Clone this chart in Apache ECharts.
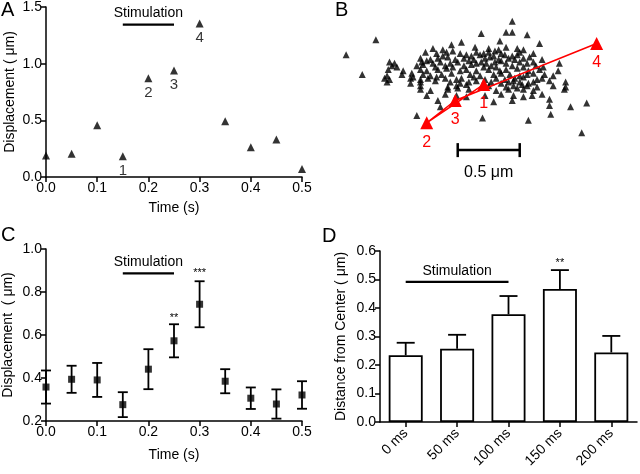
<!DOCTYPE html>
<html><head><meta charset="utf-8">
<script src="https://cdn.jsdelivr.net/npm/echarts@6/dist/echarts.min.js"></script>
<style>html,body{margin:0;padding:0;background:#fff}#c{width:640px;height:474px}</style>
</head><body><div id="c"></div>
<script>
const FONT = "'Liberation Sans', Arial, Helvetica, sans-serif";

// ---------- Panel A ----------
const aTime = [0, 0.05, 0.1, 0.15, 0.2, 0.25, 0.3, 0.35, 0.4, 0.45, 0.5];
const aDisp = [0.19, 0.205, 0.456, 0.184, 0.871, 0.939, 1.354, 0.491, 0.263, 0.33, 0.07];
const aLabels = ['', '', '', '1', '2', '3', '4', '', '', '', ''];
const aStim = {from: 0.15, to: 0.25, y: 1.345};

// ---------- Panel B (positions in µm) ----------
const bCloud = [
 [1.47,1.41],
 [1.22,1.31],[1.42,1.32],[1.47,1.32],[1.59,1.30],
 [0.37,1.26],
 [0.98,1.22],[1.06,1.24],[1.37,1.25],[1.69,1.23],
 [0.83,1.19],[0.91,1.18],[1.17,1.20],[1.28,1.19],[1.36,1.18],[1.42,1.20],[1.51,1.19],[1.56,1.18],
 [0.77,1.16],[0.86,1.15],[0.94,1.16],[0.99,1.17],[1.05,1.15],[1.18,1.16],[1.24,1.15],[1.28,1.16],[1.33,1.17],[1.38,1.15],[1.53,1.16],[1.64,1.15],
 [0.13,1.14],[0.91,1.13],[1.10,1.14],[1.14,1.13],[1.21,1.14],[1.32,1.13],[1.41,1.14],[1.47,1.13],[1.51,1.14],
 [0.73,1.11],[0.81,1.10],[0.87,1.11],[0.95,1.12],[1.01,1.10],[1.08,1.11],[1.16,1.10],[1.25,1.11],[1.29,1.12],[1.36,1.10],[1.44,1.11],[1.49,1.10],[1.56,1.11],[1.61,1.12],[1.71,1.10],
 [0.48,1.08],[0.52,1.07],[0.74,1.08],[0.78,1.09],[0.83,1.07],[0.89,1.08],[0.97,1.07],[1.03,1.08],[1.12,1.09],[1.18,1.07],[1.22,1.08],[1.26,1.07],[1.33,1.08],[1.38,1.09],[1.42,1.07],[1.53,1.08],[1.59,1.07],[1.64,1.08],[1.85,1.07],
 [0.50,1.05],[0.54,1.04],[0.70,1.05],[0.75,1.06],[0.85,1.04],[0.93,1.05],[0.99,1.04],[1.08,1.05],[1.14,1.06],[1.24,1.04],[1.30,1.05],[1.34,1.04],[1.47,1.05],[1.56,1.04],[1.66,1.05],[1.72,1.04],
 [0.47,1.02],[0.59,1.01],[0.73,1.02],[0.78,1.01],[0.87,1.02],[0.94,1.03],[1.05,1.01],[1.10,1.02],[1.18,1.01],[1.28,1.02],[1.37,1.01],[1.42,1.02],[1.51,1.03],[1.60,1.01],[1.69,1.02],[1.84,1.01],
 [0.26,0.98],[0.46,0.97],[0.58,0.98],[0.66,0.99],[0.75,0.98],[0.81,0.97],[0.90,0.98],[0.98,0.99],[1.13,0.98],[1.21,0.97],[1.32,0.98],[1.38,0.99],[1.45,0.98],[1.53,0.97],[1.59,0.98],[1.64,0.99],[1.73,0.98],[1.80,0.97],
 [0.44,0.95],[0.48,0.94],[0.65,0.95],[0.67,0.96],[0.73,0.94],[0.79,0.95],[0.86,0.96],[0.93,0.95],[1.02,0.94],[1.06,0.95],[1.16,0.96],[1.25,0.94],[1.34,0.95],[1.41,0.94],[1.49,0.95],[1.56,0.96],[1.67,0.94],[1.71,0.95],
 [0.46,0.92],[0.65,0.91],[0.73,0.92],[0.85,0.93],[0.97,0.92],[1.05,0.91],[1.12,0.92],[1.18,0.93],[1.30,0.92],[1.38,0.91],[1.44,0.92],[1.48,0.93],[1.53,0.92],[1.60,0.91],[1.64,0.92],[1.77,0.93],[1.90,0.92],
 [0.73,0.89],[0.95,0.88],[1.02,0.89],[1.10,0.90],[1.28,0.89],[1.42,0.88],[1.48,0.89],[1.55,0.90],[1.59,0.89],[1.67,0.88],[1.80,0.89],[1.90,0.88],
 [0.73,0.86],[0.81,0.85],[0.95,0.86],[1.03,0.87],[1.12,0.86],[1.34,0.85],[1.44,0.86],[1.51,0.87],[1.56,0.86],[1.64,0.85],[1.89,0.86],
 [0.78,0.81],[0.93,0.82],[1.02,0.81],[1.10,0.80],[1.25,0.81],[1.38,0.82],[1.48,0.81],[1.56,0.80],[1.63,0.81],[1.71,0.82],
 [0.87,0.77],[1.32,0.76],[1.47,0.77],[1.77,0.78],
 [0.89,0.72],[1.77,0.73],[1.94,0.72],[2.07,0.75],
 [0.70,0.65],[1.23,0.63],[1.78,0.66],
 [1.60,0.61],
 [2.03,0.51]
];
const bTrack = [[1.24, 0.90], [0.78, 0.59], [1.01, 0.77], [2.15, 1.23]];
const bTrackLabels = ['1', '2', '3', '4'];
const bScaleBar = {from: 1.03, to: 1.53, y: 0.37, label: '0.5 μm'};

// ---------- Panel C ----------
const cTime = [0, 0.05, 0.1, 0.15, 0.2, 0.25, 0.3, 0.35, 0.4, 0.45, 0.5];
const cMean = [0.358, 0.394, 0.391, 0.276, 0.441, 0.573, 0.743, 0.385, 0.306, 0.279, 0.321];
const cErr  = [0.077, 0.063, 0.079, 0.058, 0.093, 0.077, 0.107, 0.056, 0.050, 0.068, 0.064];
const cStars = [[0.25, 0.677, '**'], [0.3, 0.887, '***']];
const cStim = {from: 0.15, to: 0.25, y: 0.887};

// ---------- Panel D ----------
const dCats = ['0 ms', '50 ms', '100 ms', '150 ms', '200 ms'];
const dMean = [0.234, 0.257, 0.378, 0.467, 0.244];
const dErr  = [0.044, 0.049, 0.064, 0.066, 0.058];
const dStars = [[3, 0.559, '**']];
const dStim = {from: 0, to: 2, y: 0.492};

// ---------- helpers ----------
const BLACK = '#000';
const TICK = 14, NAME = 14;
function axisBase(extra) {
  return Object.assign({
    axisLine: {show: true, onZero: false, lineStyle: {color: BLACK, width: 1.5}},
    axisTick: {show: true, length: 5, lineStyle: {color: BLACK, width: 1.5}},
    axisLabel: {color: BLACK, fontSize: TICK, fontFamily: FONT, margin: 4},
    splitLine: {show: false},
    nameTextStyle: {color: BLACK, fontSize: NAME, fontFamily: FONT},
    nameLocation: 'middle'
  }, extra);
}
const fmt1 = v => v.toFixed(1);

function stimRender(stim) {
  return function (params, api) {
    const p1 = api.coord([stim.from, stim.y]);
    const p2 = api.coord([stim.to, stim.y]);
    return {type: 'group', children: [
      {type: 'line', shape: {x1: p1[0], y1: p1[1], x2: p2[0], y2: p2[1]}, style: {stroke: BLACK, lineWidth: 2.2}},
      {type: 'text', x: (p1[0] + p2[0]) / 2, y: p1[1] - 4, style: {text: 'Stimulation', fill: BLACK, font: '14px ' + FONT, textAlign: 'center', textVerticalAlign: 'bottom'}}
    ]};
  };
}
function starRender(list) {
  return function (params, api) {
    const s = list[params.dataIndex];
    const p = api.coord([s[0], s[1]]);
    return {type: 'text', x: p[0], y: p[1], style: {text: s[2], fill: BLACK, font: '11px ' + FONT, textAlign: 'center', textVerticalAlign: 'middle'}};
  };
}

const option = {
  animation: false,
  backgroundColor: '#fff',
  grid: [
    {left: 46, right: 338, top: 6, bottom: 297},
    {left: 330, width: 310, top: 10, height: 186},
    {left: 46, right: 338, top: 249, bottom: 53},
    {left: 380, right: 3, top: 251, bottom: 52}
  ],
  xAxis: [
    axisBase({type: 'value', gridIndex: 0, min: 0, max: 0.5, interval: 0.1, name: 'Time (s)', nameGap: 24,
      axisLabel: {color: BLACK, fontSize: TICK, fontFamily: FONT, margin: 4, formatter: fmt1}}),
    {type: 'value', gridIndex: 1, min: 0, max: 2.5, show: false},
    axisBase({type: 'value', gridIndex: 2, min: 0, max: 0.5, interval: 0.1, name: 'Time (s)', nameGap: 27,
      axisLabel: {color: BLACK, fontSize: TICK, fontFamily: FONT, margin: 4, formatter: fmt1}}),
    axisBase({type: 'category', gridIndex: 3, data: dCats,
      axisTick: {show: true, alignWithLabel: true, length: 5, lineStyle: {color: BLACK, width: 1.5}},
      axisLabel: {color: BLACK, fontSize: 14, fontFamily: FONT, rotate: 45, margin: 9, interval: 0}})
  ],
  yAxis: [
    axisBase({type: 'value', gridIndex: 0, min: 0, max: 1.5, interval: 0.5, name: 'Displacement ( μm)', nameGap: 29,
      axisLabel: {color: BLACK, fontSize: TICK, fontFamily: FONT, margin: 4, formatter: fmt1}}),
    {type: 'value', gridIndex: 1, min: 0, max: 1.5, show: false},
    axisBase({type: 'value', gridIndex: 2, min: 0.2, max: 1.0, interval: 0.2, name: 'Displacement  ( μm)', nameGap: 31,
      axisLabel: {color: BLACK, fontSize: TICK, fontFamily: FONT, margin: 4, formatter: fmt1}}),
    axisBase({type: 'value', gridIndex: 3, min: 0, max: 0.6, interval: 0.1, name: 'Distance from Center ( μm)', nameGap: 32,
      axisLabel: {color: BLACK, fontSize: TICK, fontFamily: FONT, margin: 4, formatter: fmt1}})
  ],
  graphic: [
    {type: 'text', left: 1, top: 0, style: {text: 'A', fill: BLACK, font: '20px ' + FONT}},
    {type: 'text', left: 335, top: 0, style: {text: 'B', fill: BLACK, font: '20px ' + FONT}},
    {type: 'text', left: 1, top: 225, style: {text: 'C', fill: BLACK, font: '20px ' + FONT}},
    {type: 'text', left: 322, top: 226, style: {text: 'D', fill: BLACK, font: '20px ' + FONT}}
  ],
  series: [
    // A
    {type: 'scatter', xAxisIndex: 0, yAxisIndex: 0, symbol: 'triangle', symbolSize: 8,
      itemStyle: {color: BLACK},
      data: aTime.map((t, i) => [t, aDisp[i]]),
      label: {show: true, position: 'bottom', distance: 3, color: BLACK, fontSize: 15, fontFamily: FONT,
        formatter: p => aLabels[p.dataIndex]}},
    {type: 'custom', xAxisIndex: 0, yAxisIndex: 0, data: [[aStim.from, aStim.y]], renderItem: stimRender(aStim)},
    // B
    {type: 'scatter', xAxisIndex: 1, yAxisIndex: 1, symbol: 'triangle', symbolSize: 7,
      itemStyle: {color: BLACK}, data: bCloud, z: 2},
    {type: 'line', xAxisIndex: 1, yAxisIndex: 1, data: bTrack, symbol: 'triangle', symbolSize: 13,
      lineStyle: {color: '#f00', width: 1.5}, itemStyle: {color: '#f00'}, z: 5,
      label: {show: true, position: 'bottom', distance: 5, color: '#f00', fontSize: 16, fontFamily: FONT,
        formatter: p => bTrackLabels[p.dataIndex]}},
    {type: 'custom', xAxisIndex: 1, yAxisIndex: 1, data: [[bScaleBar.from, bScaleBar.y]],
      renderItem: function (params, api) {
        const p1 = api.coord([bScaleBar.from, bScaleBar.y]);
        const p2 = api.coord([bScaleBar.to, bScaleBar.y]);
        const h = 7;
        return {type: 'group', children: [
          {type: 'line', shape: {x1: p1[0], y1: p1[1], x2: p2[0], y2: p2[1]}, style: {stroke: BLACK, lineWidth: 2.5}},
          {type: 'line', shape: {x1: p1[0], y1: p1[1] - h, x2: p1[0], y2: p1[1] + h}, style: {stroke: BLACK, lineWidth: 2.5}},
          {type: 'line', shape: {x1: p2[0], y1: p2[1] - h, x2: p2[0], y2: p2[1] + h}, style: {stroke: BLACK, lineWidth: 2.5}},
          {type: 'text', x: (p1[0] + p2[0]) / 2, y: p1[1] + 14, style: {text: bScaleBar.label, fill: BLACK, font: '16px ' + FONT, textAlign: 'center', textVerticalAlign: 'top'}}
        ]};
      }},
    // C
    {type: 'custom', xAxisIndex: 2, yAxisIndex: 2,
      data: cTime.map((t, i) => [t, cMean[i] - cErr[i], cMean[i] + cErr[i]]),
      renderItem: function (params, api) {
        const x = api.value(0);
        const lo = api.coord([x, api.value(1)]);
        const hi = api.coord([x, api.value(2)]);
        const w = 5;
        const st = {stroke: BLACK, lineWidth: 1.8};
        return {type: 'group', children: [
          {type: 'line', shape: {x1: lo[0], y1: lo[1], x2: hi[0], y2: hi[1]}, style: st},
          {type: 'line', shape: {x1: lo[0] - w, y1: lo[1], x2: lo[0] + w, y2: lo[1]}, style: st},
          {type: 'line', shape: {x1: hi[0] - w, y1: hi[1], x2: hi[0] + w, y2: hi[1]}, style: st}
        ]};
      }},
    {type: 'scatter', xAxisIndex: 2, yAxisIndex: 2, symbol: 'rect', symbolSize: 7,
      itemStyle: {color: BLACK}, data: cTime.map((t, i) => [t, cMean[i]]), z: 5},
    {type: 'custom', xAxisIndex: 2, yAxisIndex: 2, data: cStars.map(s => [s[0], s[1]]), renderItem: starRender(cStars)},
    {type: 'custom', xAxisIndex: 2, yAxisIndex: 2, data: [[cStim.from, cStim.y]], renderItem: stimRender(cStim)},
    // D
    {type: 'bar', xAxisIndex: 3, yAxisIndex: 3, barWidth: 34, data: dMean,
      itemStyle: {color: '#fff', borderColor: BLACK, borderWidth: 1.8}},
    {type: 'custom', xAxisIndex: 3, yAxisIndex: 3,
      data: dMean.map((m, i) => [i, m, m + dErr[i]]),
      renderItem: function (params, api) {
        const i = api.value(0);
        const lo = api.coord([i, api.value(1)]);
        const hi = api.coord([i, api.value(2)]);
        const w = 9;
        const st = {stroke: BLACK, lineWidth: 1.8};
        return {type: 'group', children: [
          {type: 'line', shape: {x1: lo[0], y1: lo[1], x2: hi[0], y2: hi[1]}, style: st},
          {type: 'line', shape: {x1: hi[0] - w, y1: hi[1], x2: hi[0] + w, y2: hi[1]}, style: st}
        ]};
      }},
    {type: 'custom', xAxisIndex: 3, yAxisIndex: 3, data: dStars.map(s => [s[0], s[1]]), renderItem: starRender(dStars)},
    {type: 'custom', xAxisIndex: 3, yAxisIndex: 3, data: [[dStim.from, dStim.y]], renderItem: stimRender(dStim)}
  ]
};
const chart = echarts.init(document.getElementById('c'), null, {renderer: 'canvas'});
chart.setOption(option);
</script></body></html>
